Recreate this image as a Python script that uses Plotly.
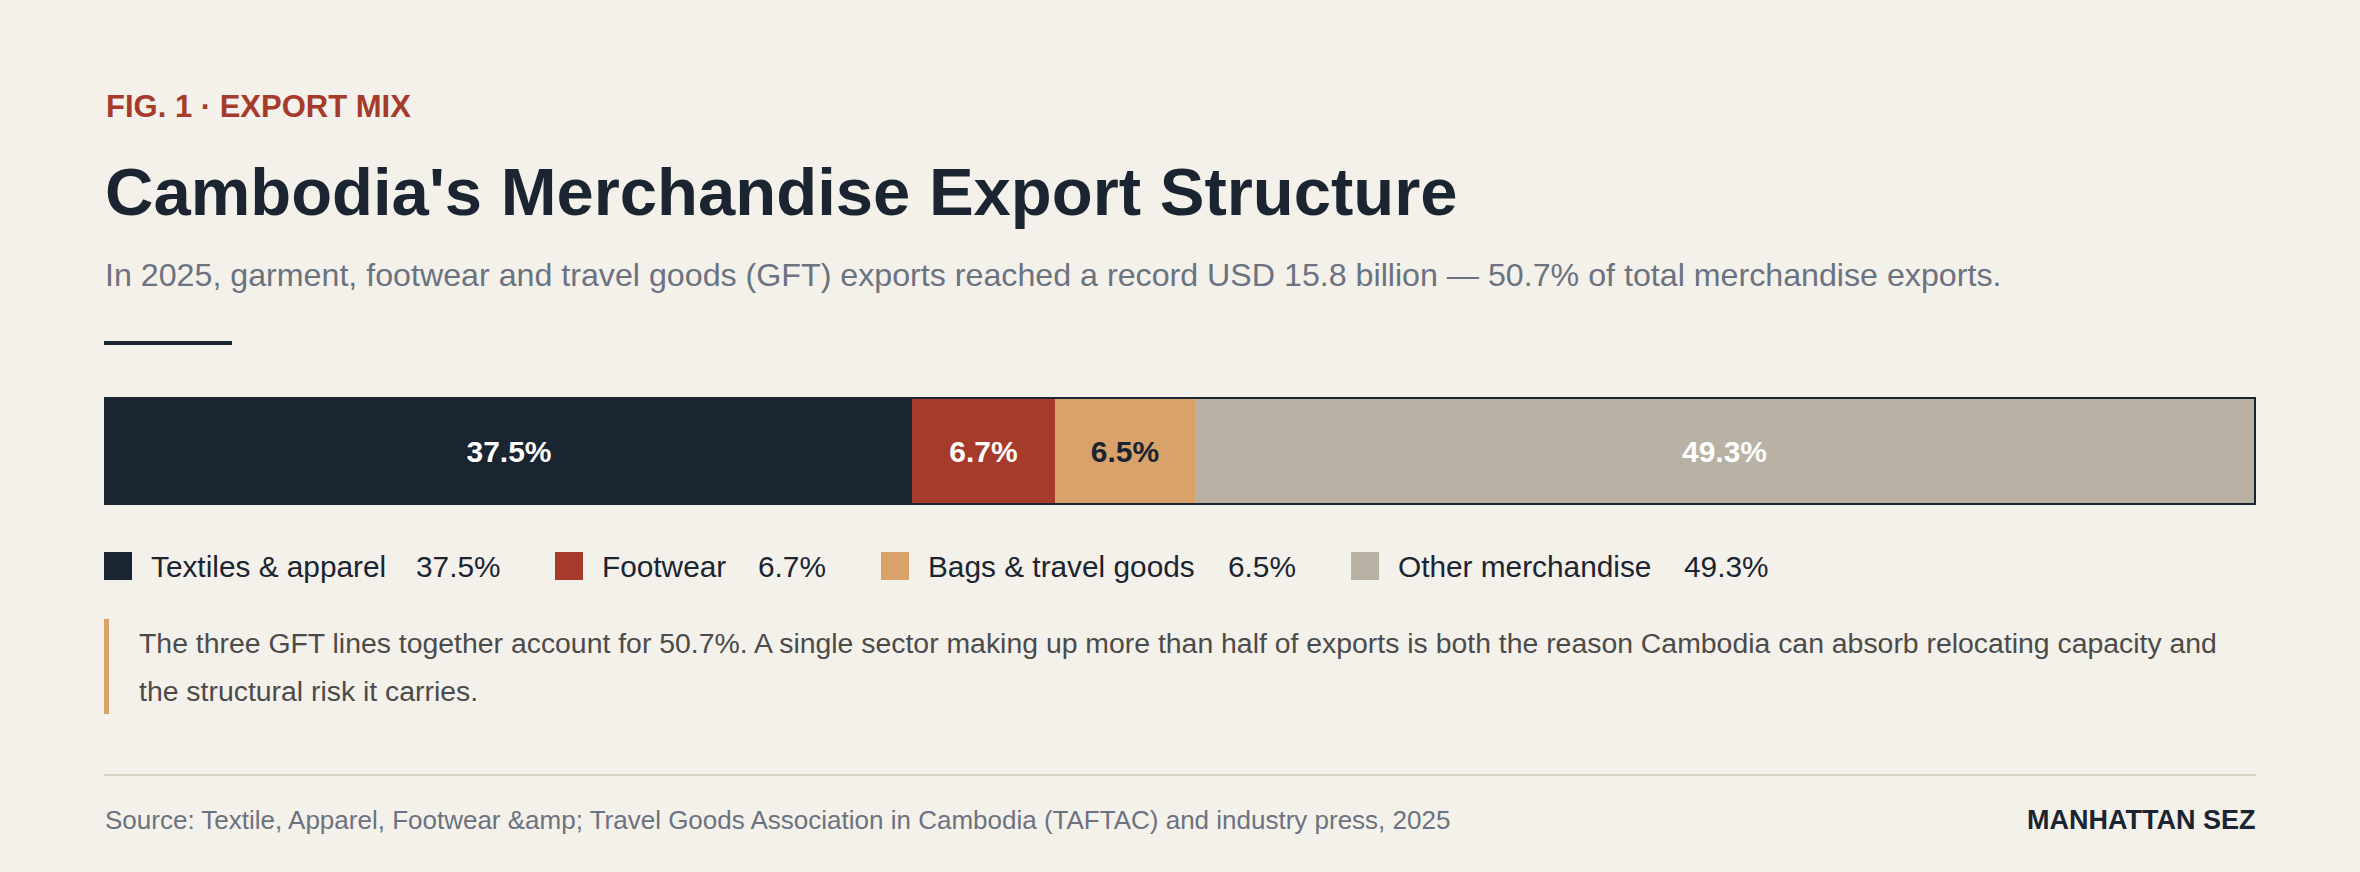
import plotly.graph_objects as go

# data
categories = ["Textiles & apparel", "Footwear", "Bags & travel goods", "Other merchandise"]
shares = [37.5, 6.7, 6.5, 49.3]
colors = ["#1b2431", "#a63b2c", "#d8a26a", "#b9b1a3"]
label_colors = ["#ffffff", "#ffffff", "#1b2431", "#ffffff"]

W, H = 2360, 872
BG = "#f4f1ea"
NAVY = "#1b2431"
FONT = "Liberation Sans, Arial, Helvetica, sans-serif"


def px(x):
    return x / W


def py(y):
    return 1 - y / H


def text_at(x, baseline, text, size, color, bold=False, xanchor="left"):
    # put the baseline of a single line at a pixel row
    mid = baseline - 0.3465 * size
    return dict(
        x=px(x), y=py(mid), xref="paper", yref="paper",
        xanchor=xanchor, yanchor="middle", showarrow=False, borderpad=0,
        text=text, align="left",
        font=dict(family=FONT, size=size, color=color, weight=700 if bold else 400),
    )


fig = go.Figure()

for cat, val, col, lc in zip(categories, shares, colors, label_colors):
    fig.add_trace(go.Bar(
        x=[val], y=[""], orientation="h", name=cat,
        marker=dict(color=col, line=dict(width=0)),
        text=[val], texttemplate="%{x:.1f}%",
        textposition="inside", insidetextanchor="middle", textangle=0,
        insidetextfont=dict(family=FONT, size=30, color=lc, weight=700),
        hoverinfo="skip", width=1,
    ))

shapes = [
    # short rule under subtitle
    dict(type="rect", xref="paper", yref="paper", x0=px(104), x1=px(232), y0=py(345), y1=py(341),
         fillcolor=NAVY, line=dict(width=0)),
    # outline round the bar
    dict(type="rect", xref="paper", yref="paper", x0=px(105), x1=px(2255), y0=py(504), y1=py(398),
         line=dict(color=NAVY, width=2), fillcolor="rgba(0,0,0,0)", layer="above"),
    # callout accent
    dict(type="rect", xref="paper", yref="paper", x0=px(104), x1=px(109), y0=py(714), y1=py(619),
         fillcolor="#d8a26a", line=dict(width=0)),
    # footer rule
    dict(type="rect", xref="paper", yref="paper", x0=px(104), x1=px(2256), y0=py(776), y1=py(774),
         fillcolor="#dbd5c7", line=dict(width=0)),
]

annotations = [
    text_at(105, 117, "FIG. 1 · EXPORT MIX", 31, "#a63b2c", bold=True),
    text_at(104, 215, "Cambodia's Merchandise Export Structure", 67, NAVY, bold=True),
    text_at(104, 286, "In 2025, garment, footwear and travel goods (GFT) exports reached a record "
                      "USD 15.8 billion — 50.7% of total merchandise exports.", 32.2, "#6b7280"),
    text_at(138, 653, "The three GFT lines together account for 50.7%. A single sector making up more "
                      "than half of exports is both the reason Cambodia can absorb relocating capacity and",
            28.4, "#4b4b4b"),
    text_at(138, 701, "the structural risk it carries.", 28.4, "#4b4b4b"),
    text_at(104, 829, "Source: Textile, Apparel, Footwear &amp;amp; Travel Goods Association in Cambodia "
                      "(TAFTAC) and industry press, 2025", 26, "#6b7280"),
    text_at(2256, 829, "MANHATTAN SEZ", 27, NAVY, bold=True, xanchor="right"),
]

# legend drawn by hand so the swatches can be large
legend_x = [104, 555, 881, 1351]
value_x = [415, 757, 1227, 1683]
for cat, val, col, lx, vx in zip(categories, shares, colors, legend_x, value_x):
    shapes.append(dict(type="rect", xref="paper", yref="paper", x0=px(lx), x1=px(lx + 28),
                       y0=py(580), y1=py(552), fillcolor=col, line=dict(width=0)))
    annotations.append(text_at(lx + 46, 577, cat, 29.8, NAVY))
    annotations.append(text_at(vx, 577, f"{val:.1f}%", 29.8, NAVY))

fig.update_layout(
    width=W, height=H,
    margin=dict(l=0, r=0, t=0, b=0),
    paper_bgcolor=BG, plot_bgcolor="rgba(0,0,0,0)",
    barmode="stack", bargap=0, showlegend=False,
    xaxis=dict(range=[0, 100], domain=[px(106), px(2254)], visible=False, fixedrange=True),
    yaxis=dict(range=[-0.5, 0.5], domain=[py(503), py(399)], visible=False, fixedrange=True),
    shapes=shapes, annotations=annotations,
    hovermode=False,
)

# drop the default page margin so the figure sits at the window's corner
fig.write_html("out.html", config={"displayModeBar": False},
               post_script="document.body.style.margin='0';document.body.style.background='" + BG + "';")
